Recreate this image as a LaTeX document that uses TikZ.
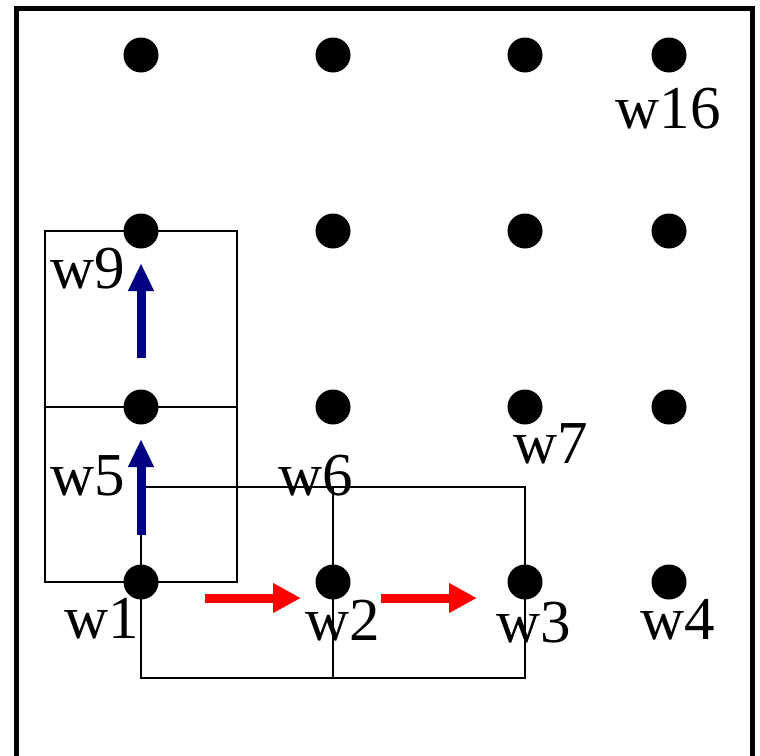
\documentclass[tikz,border=0pt]{standalone}
\usepackage{fontspec}
\setmainfont{Liberation Serif}
\usetikzlibrary{arrows.meta}
\begin{document}
\begin{tikzpicture}[x=1pt,y=-1pt,
  dot/.style={circle,fill=black,inner sep=0pt,minimum size=35pt},
  lbl/.style={anchor=base,inner sep=0pt,font=\fontsize{61pt}{70pt}\selectfont},
  grid line/.style={draw=black,line width=2.7pt},
  bluearrow/.style={draw={rgb,255:red,0;green,0;blue,128},line width=9pt,-{Triangle[length=28pt,width=24pt]}},
  redarrow/.style={draw=red,line width=9pt,-{Triangle[length=28pt,width=28pt]}}]
\useasboundingbox (0,0) rectangle (760,755);
% labels
\node[lbl] (l16) at (668,128) {w16};
\node[lbl] (l9) at (88,288) {w9};
\node[lbl] (l5) at (88,495) {w5};
\node[lbl] (l6) at (316,495) {w6};
\node[lbl] (l7) at (551,463) {w7};
\node[lbl] (l1) at (102,638) {w1};
\node[lbl] (l2) at (343,640) {w2};
\node[lbl] (l3) at (534,642) {w3};
\node[lbl] (l4) at (678,639) {w4};
% outer frame
\coordinate (fbl) at (16.5,760);
\coordinate (ftl) at (16.5,8);
\coordinate (ftr) at (752.5,8);
\coordinate (fbr) at (752.5,760);
\draw[line width=5pt] (fbl) -- (ftl) -- (ftr) -- (fbr);
% boxes
\coordinate (a1) at (45,231);
\coordinate (a2) at (237,231);
\coordinate (a3) at (45,407);
\coordinate (a4) at (237,407);
\coordinate (a5) at (45,582);
\coordinate (a6) at (237,582);
\draw[grid line] (a1) -- (a2) -- (a6) -- (a5) -- cycle;
\draw[grid line] (a3) -- (a4);
\coordinate (b1) at (141,487);
\coordinate (b2) at (333,487);
\coordinate (b3) at (525,487);
\coordinate (b4) at (141,678);
\coordinate (b5) at (333,678);
\coordinate (b6) at (525,678);
\draw[grid line] (b1) -- (b3) -- (b6) -- (b4) -- cycle;
\draw[grid line] (b2) -- (b5);
% dots
\foreach \r/\y in {0/582,1/407,2/231,3/55}{
  \foreach \c/\x in {1/141,2/333,3/525,4/669}{
    \pgfmathtruncatemacro{\n}{\r*4+\c}
    \node[dot] (w\n) at (\x,\y) {};
  }
}
% arrows
\coordinate (u1s) at (141,535);
\coordinate (u1e) at (141,439);
\coordinate (u2s) at (141,358);
\coordinate (u2e) at (141,263);
\draw[bluearrow] (u1s) -- (u1e);
\draw[bluearrow] (u2s) -- (u2e);
\coordinate (r1s) at (205,598);
\coordinate (r1e) at (301,598);
\coordinate (r2s) at (381,598);
\coordinate (r2e) at (477,598);
\draw[redarrow] (r1s) -- (r1e);
\draw[redarrow] (r2s) -- (r2e);
\end{tikzpicture}
\end{document}
